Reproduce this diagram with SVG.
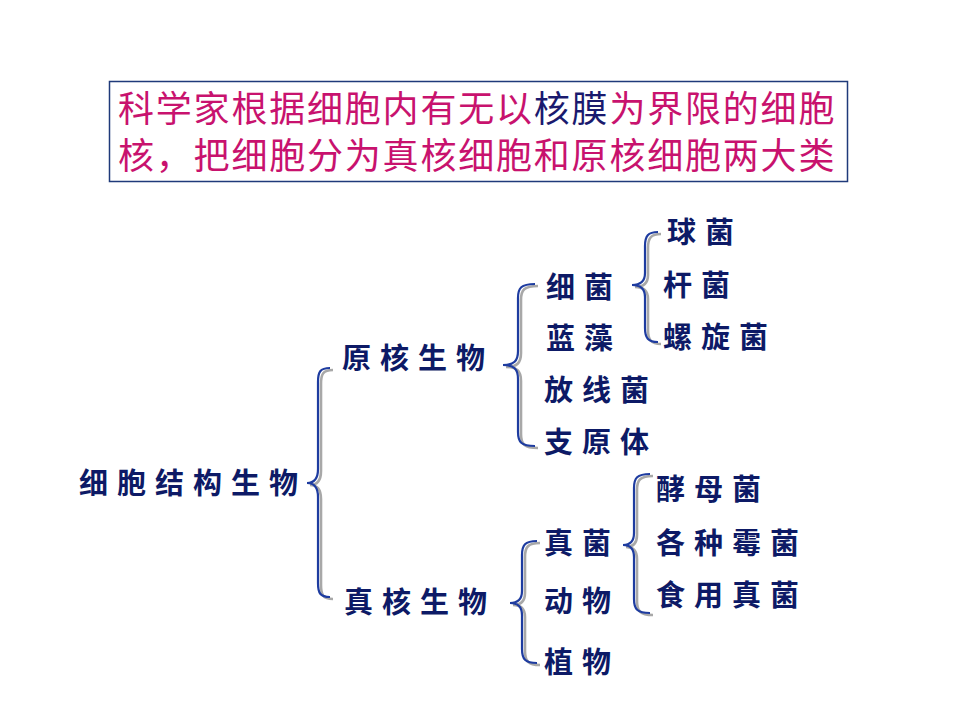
<svg xmlns="http://www.w3.org/2000/svg" xmlns:xlink="http://www.w3.org/1999/xlink" width="960" height="720" viewBox="0 0 960 720">
<style>
.title{font-family:"Noto Sans CJK SC","Noto Sans",sans-serif;font-size:36px;fill:#C8126E;letter-spacing:1.8px}
.dark{fill:#1A1A6E}
.lbl{font-family:"Noto Sans CJK SC","Noto Sans",sans-serif;font-size:29px;font-weight:bold;fill:#0D1A66;letter-spacing:9px}
.br{fill:none;stroke:#1E3CA0;stroke-width:2.2}
.sh{fill:none;stroke:#A8A8A8;stroke-width:2.6}
</style>
<defs>
<path id="b1" d="M330 368 C320 368,318 372,318 382 L318 469 C318 479,314 483,307 483 C314 483,318 487,318 497 L318 583 C318 593,320 597,330 597"/>
<path id="b2" d="M535 284 C521 284,518 288,518 298 L518 351 C518 361,514 365,503 365 C514 365,518 369,518 379 L518 432 C518 442,521 446,535 446"/>
<path id="b3" d="M658 232 C648 232,645 236,645 246 L645 273 C645 281,641 285,632 285 C641 285,645 289,645 297 L645 328 C645 338,648 342,658 342"/>
<path id="b4" d="M537 541 C525 541,522 545,522 555 L522 591 C522 599,518 603,510 603 C518 603,522 607,522 615 L522 649 C522 659,525 663,537 663"/>
<path id="b5" d="M650 474 C637 474,634 478,634 488 L634 533 C634 541,630 545,623 545 C630 545,634 549,634 557 L634 599 C634 609,637 613,650 613"/>
</defs>
<g id="title-box">
<rect x="109.5" y="81.5" width="738" height="100" fill="#FFFFFF" stroke="#1F3A7A" stroke-width="1.5"/>
<text class="title" x="118" y="122">科学家根据细胞内有无以<tspan class="dark">核膜</tspan>为界限的细胞</text>
<text class="title" x="118" y="169">核，把细胞分为真核细胞和原核细胞两大类</text>
</g>
<g id="connectors">
<use xlink:href="#b1" class="sh" transform="translate(3,2)"/><use xlink:href="#b1" class="br"/>
<use xlink:href="#b2" class="sh" transform="translate(3,2)"/><use xlink:href="#b2" class="br"/>
<use xlink:href="#b3" class="sh" transform="translate(3,2)"/><use xlink:href="#b3" class="br"/>
<use xlink:href="#b4" class="sh" transform="translate(3,2)"/><use xlink:href="#b4" class="br"/>
<use xlink:href="#b5" class="sh" transform="translate(3,2)"/><use xlink:href="#b5" class="br"/>
</g>
<g id="n-root"><text class="lbl" x="79" y="494">细胞结构生物</text></g>
<g id="n-prokaryote"><text class="lbl" x="342" y="369">原核生物</text></g>
<g id="n-eukaryote"><text class="lbl" x="344" y="613">真核生物</text></g>
<g id="n-bacteria"><text class="lbl" x="546" y="298">细菌</text></g>
<g id="n-cyano"><text class="lbl" x="546" y="349">蓝藻</text></g>
<g id="n-actino"><text class="lbl" x="544" y="401">放线菌</text></g>
<g id="n-myco"><text class="lbl" x="544" y="453">支原体</text></g>
<g id="n-cocci"><text class="lbl" x="667" y="243">球菌</text></g>
<g id="n-bacilli"><text class="lbl" x="663" y="296">杆菌</text></g>
<g id="n-spiral"><text class="lbl" x="663" y="348">螺旋菌</text></g>
<g id="n-fungi"><text class="lbl" x="544" y="554">真菌</text></g>
<g id="n-animal"><text class="lbl" x="544" y="612">动物</text></g>
<g id="n-plant"><text class="lbl" x="544" y="673">植物</text></g>
<g id="n-yeast"><text class="lbl" x="656" y="500">酵母菌</text></g>
<g id="n-mold"><text class="lbl" x="656" y="554">各种霉菌</text></g>
<g id="n-edible"><text class="lbl" x="656" y="606">食用真菌</text></g>
</svg>
